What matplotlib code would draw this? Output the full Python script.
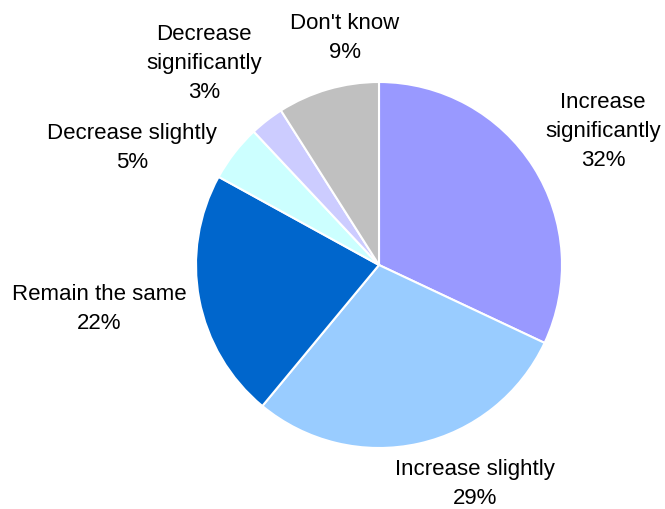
import numpy as np
import matplotlib.pyplot as plt

plt.rcParams['font.family'] = ['Liberation Sans', 'DejaVu Sans']

labels = ['Increase\nsignificantly', 'Increase slightly', 'Remain the same',
          'Decrease slightly', 'Decrease\nsignificantly', "Don't know"]
shares = [32, 29, 22, 5, 3, 9]
colors = ['#9999FF', '#99CCFF', '#0066CC', '#CCFFFF', '#CCCCFF', '#C0C0C0']

# label anchor points in figure pixels (x from left, y from top)
label_pos = [(603, 131), (475, 484), (99, 309), (132, 148), (204, 63), (345, 38)]

W, H = 665, 509
fig = plt.figure(figsize=(W / 100, H / 100), dpi=100)
ax = fig.add_axes([0, 0, 1, 1])

cx, cy, r = 379, H - 265, 183
ax.pie(shares, colors=colors, startangle=90, counterclock=False,
       center=(cx, cy), radius=r, frame=True,
       wedgeprops=dict(edgecolor='white', linewidth=1.5))
ax.set_xlim(0, W)
ax.set_ylim(0, H)
ax.set_aspect('equal')
ax.axis('off')

for lab, val, (x, y) in zip(labels, shares, label_pos):
    ax.text(x, H - y, f'{lab}\n{val}%', ha='center', va='center',
            fontsize=16, linespacing=1.5, color='black')

fig.savefig('out.png', dpi=100)
